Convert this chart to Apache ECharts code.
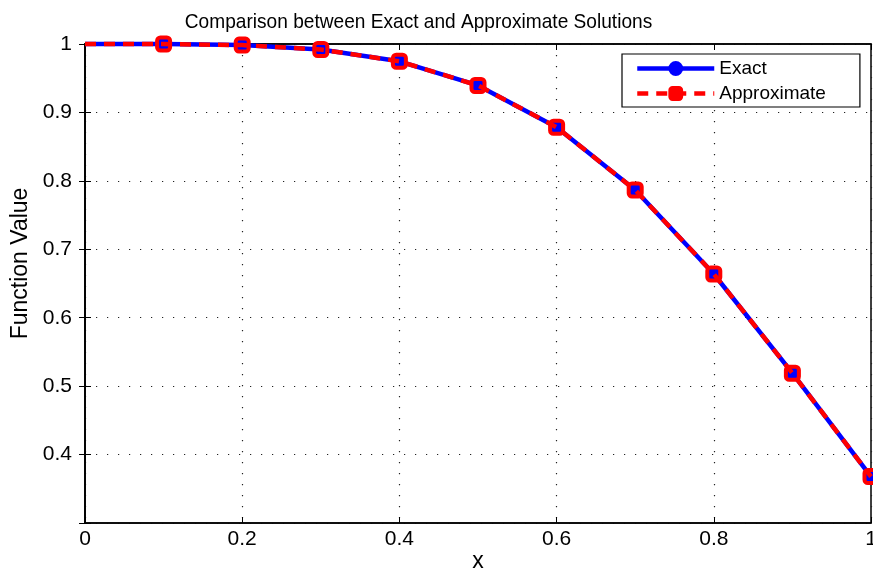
<!DOCTYPE html>
<html>
<head>
<meta charset="utf-8">
<script src="https://cdn.jsdelivr.net/npm/echarts@6/dist/echarts.min.js"></script>
<style>
html,body{margin:0;padding:0;background:#fff;}
#chart{width:873px;height:572px;}
</style>
</head>
<body>
<div id="chart"></div>
<script>
const xValues = [0, 0.1, 0.2, 0.3, 0.4, 0.5, 0.6, 0.7, 0.8, 0.9, 1.0];
const exactValues = [1.0, 0.9999, 0.9984, 0.9919, 0.9747, 0.9394, 0.8784, 0.7866, 0.6639, 0.5189, 0.3679];
const approxValues = [1.0, 0.9999, 0.9984, 0.9919, 0.9747, 0.9394, 0.8784, 0.7866, 0.6639, 0.5189, 0.3679];
const seriesNames = ['Exact', 'Approximate'];
const titleText = 'Comparison between Exact and Approximate Solutions';
const xAxisName = 'x';
const yAxisName = 'Function Value';

const FONT = '"Liberation Sans", Arial, sans-serif';

function pts(ys) {
  return xValues.map((x, i) => i === 0 ? { value: [x, ys[i]], symbol: 'none' } : { value: [x, ys[i]] });
}
function fmt(v) {
  return String(Math.round(v * 10) / 10);
}

const chart = echarts.init(document.getElementById('chart'));
chart.setOption({
  animation: false,
  backgroundColor: '#fff',
  graphic: [{
    type: 'text',
    x: 418.5,
    y: 22,
    scaleX: 0.91,
    style: {
      text: titleText,
      font: '21px "Liberation Sans", Arial, sans-serif',
      fill: '#000',
      align: 'center',
      verticalAlign: 'middle'
    },
    z: 10
  }],
  legend: {
    orient: 'vertical',
    left: 622,
    top: 54,
    padding: [5, 34, 4, 13],
    itemGap: 6,
    itemWidth: 77,
    itemHeight: 16,
    backgroundColor: '#fff',
    borderColor: '#000',
    borderWidth: 1.2,
    borderRadius: 0,
    textStyle: { fontFamily: FONT, fontSize: 19, color: '#000', lineHeight: 18 },
    lineStyle: { width: 4.5 },
    data: [
      { name: seriesNames[0], itemStyle: { color: '#0000ff', borderColor: '#0000ff', borderWidth: 2 } },
      { name: seriesNames[1], itemStyle: { color: '#ff0000', borderColor: '#ff0000', borderWidth: 2 } }
    ]
  },
  grid: {
    left: 85, right: 2, top: 44, bottom: 49,
    outerBoundsMode: 'none',
    containLabel: false,
    show: true, borderColor: '#000', borderWidth: 1.5, backgroundColor: 'transparent'
  },
  xAxis: [{
    type: 'value', min: 0, max: 1, interval: 0.2,
    name: xAxisName, nameLocation: 'middle', nameGap: 27, nameMoveOverlap: false,
    nameTextStyle: { fontFamily: FONT, fontSize: 23, color: '#000' },
    axisLine: { show: true, onZero: false, lineStyle: { color: '#000', width: 1.5 } },
    axisTick: { show: true, inside: true, length: 6, lineStyle: { color: '#000' } },
    axisLabel: { fontFamily: FONT, fontSize: 21, color: '#000', margin: 6, formatter: fmt },
    splitLine: { show: true, lineStyle: { color: '#222', type: [1.2, 9.8], width: 1.2 } }
  }, {
    type: 'value', min: 0, max: 1, interval: 0.2, position: 'top',
    axisLine: { show: true, lineStyle: { color: '#000', width: 1.5 } },
    axisTick: { show: true, inside: true, length: 6, lineStyle: { color: '#000' } },
    axisLabel: { show: false }, splitLine: { show: false }
  }],
  yAxis: [{
    type: 'value', min: 0.3, max: 1, interval: 0.1,
    name: yAxisName, nameLocation: 'middle', nameGap: 53, nameRotate: 90, nameMoveOverlap: false,
    nameTextStyle: { fontFamily: FONT, fontSize: 23, color: '#000', padding: [0, 0, 0, 40] },
    axisLine: { show: true, onZero: false, lineStyle: { color: '#000', width: 1.5 } },
    axisTick: { show: true, inside: true, length: 6, lineStyle: { color: '#000' } },
    axisLabel: { fontFamily: FONT, fontSize: 21, color: '#000', margin: 13,
      formatter: v => (Math.abs(v - 0.3) < 1e-6 ? '' : fmt(v)) },
    splitLine: { show: true, lineStyle: { color: '#222', type: [1.2, 9.8], width: 1.2 } }
  }, {
    type: 'value', min: 0.3, max: 1, interval: 0.1, position: 'right',
    axisLine: { show: true, lineStyle: { color: '#000', width: 1.5 } },
    axisTick: { show: true, inside: true, length: 6, lineStyle: { color: '#000' } },
    axisLabel: { show: false }, splitLine: { show: false }
  }],
  series: [{
    name: seriesNames[0],
    type: 'line',
    xAxisIndex: 0, yAxisIndex: 0,
    data: pts(exactValues),
    clip: false,
    symbol: 'circle',
    symbolSize: 12,
    lineStyle: { color: '#0000ff', width: 4.5 },
    itemStyle: { color: '#0000ff', borderColor: '#0000ff', borderWidth: 3 },
    z: 3
  }, {
    name: seriesNames[1],
    type: 'line',
    xAxisIndex: 0, yAxisIndex: 0,
    data: pts(approxValues),
    clip: false,
    symbol: 'roundRect',
    symbolSize: 13,
    lineStyle: { color: '#ff0000', width: 4.5, type: [11, 8] },
    itemStyle: { color: 'rgba(0,0,0,0)', borderColor: '#ff0000', borderWidth: 4 },
    z: 4
  }]
});
</script>
</body>
</html>
